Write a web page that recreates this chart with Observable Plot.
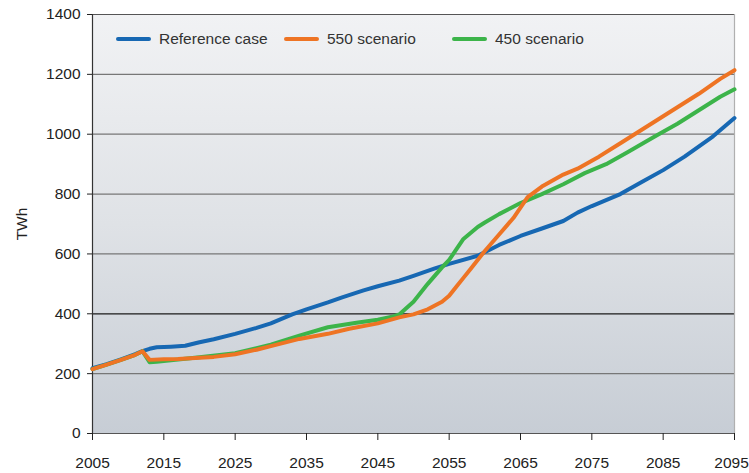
<!DOCTYPE html>
<html>
<head>
<meta charset="utf-8">
<script src="https://cdn.jsdelivr.net/npm/d3@7"></script>
<script src="https://cdn.jsdelivr.net/npm/@observablehq/plot@0.6"></script>
<style>
  html, body { margin: 0; padding: 0; background: #ffffff; }
  #wrap { position: relative; width: 749px; height: 473px; overflow: hidden; font-family: "Liberation Sans", Arial, sans-serif; }
  #legend { position: absolute; left: 116px; top: 30px; display: flex; align-items: center; font-size: 15.5px; color: #333; }
  .item { display: flex; align-items: center; width: 168px; }
  .sw { width: 35px; height: 4px; border-radius: 2px; margin-right: 8px; }
</style>
</head>
<body>
<div id="wrap"><div id="legend"></div></div>
<script>
// ---- data ----
const seriesNames = ["Reference case", "550 scenario", "450 scenario"];
const seriesColors = ["#1768b3", "#ee7424", "#3cb44a"];

const refYears  = [2005,2007,2009,2011,2012,2013,2014,2016,2018,2020,2022,2025,2028,2030,2033,2035,2038,2040,2043,2045,2048,2050,2053,2055,2059,2062,2065,2068,2071,2073,2075,2079,2082,2085,2088,2092,2095];
const refValues = [218,232,248,265,275,283,288,290,293,305,315,333,353,368,398,415,438,455,478,492,511,527,552,567,594,630,660,685,710,738,760,800,840,880,925,993,1054];

const s550Years  = [2005,2007,2009,2011,2012,2013,2015,2017,2020,2022,2025,2028,2030,2034,2038,2041,2045,2048,2050,2052,2054,2055,2056,2057,2058,2060,2062,2064,2066,2068,2070,2071,2073,2076,2079,2081,2084,2087,2090,2093,2095];
const s550Values = [215,230,246,263,275,246,248,249,253,256,265,280,292,316,333,350,368,388,398,415,440,460,490,520,550,610,665,720,790,825,852,865,885,925,970,1000,1045,1090,1135,1185,1214];

const s450Years  = [2005,2007,2009,2011,2012,2013,2014,2016,2020,2025,2030,2034,2038,2042,2045,2047,2048,2050,2052,2054,2055,2056,2057,2058,2059,2060,2062,2065,2068,2071,2074,2077,2080,2084,2087,2090,2093,2095];
const s450Values = [215,230,246,263,275,238,240,245,255,268,297,327,355,370,380,390,398,440,500,555,580,615,650,670,690,705,733,770,800,833,870,900,940,995,1035,1080,1125,1150];

const xTicks = [2005,2015,2025,2035,2045,2055,2065,2075,2085,2095];
const yTicks = [0,200,400,600,800,1000,1200,1400];

// ---- build table ----
const rows = [];
refYears.forEach((y, i) => rows.push({year: y, value: refValues[i], series: seriesNames[0]}));
s450Years.forEach((y, i) => rows.push({year: y, value: s450Values[i], series: seriesNames[2]}));
s550Years.forEach((y, i) => rows.push({year: y, value: s550Values[i], series: seriesNames[1]}));
const colorOf = Object.fromEntries(seriesNames.map((n, i) => [n, seriesColors[i]]));
const lastTick = xTicks[xTicks.length - 1];

const plot = Plot.plot({
  width: 749,
  height: 473,
  marginLeft: 92,
  marginRight: 15,
  marginTop: 14,
  marginBottom: 40,
  style: {fontFamily: "Liberation Sans, Arial, sans-serif", fontSize: "15.5px", color: "#222", background: "transparent", overflow: "visible"},
  x: {domain: [2005, 2095]},
  y: {domain: [0, 1400]},
  marks: [
    Plot.frame({fill: "url(#bgGrad)", stroke: "none"}),
    Plot.ruleY(yTicks.filter(d => d > 0 && d < 1400), {y: d => d, stroke: d => d === 400 ? "#1a1a1a" : "#777", strokeWidth: 1.2}),
    Plot.ruleY([1400], {stroke: "#555", strokeWidth: 1.2}),
    Plot.ruleX([2095], {stroke: "#b0b0b0", strokeWidth: 1.2}),
    Plot.ruleY([0], {stroke: "#555", strokeWidth: 1.2}),
    Plot.ruleX([2005], {stroke: "#333", strokeWidth: 1.2}),
    Plot.axisY({ticks: yTicks, tickSize: 5, tickPadding: 7, tickFormat: d => String(d), label: "TWh", labelAnchor: "center", labelArrow: "none", labelOffset: 77, fontSize: 15.5}),
    Plot.axisX({ticks: xTicks, tickSize: 7, tickPadding: 16, tickFormat: d => d === lastTick ? "" : String(d), label: null, fontSize: 15.5}),
    Plot.axisX({ticks: [lastTick], tickSize: 0, tickPadding: 23, dx: -3, tickFormat: d => String(d), label: null, fontSize: 15.5}),
    Plot.line(rows, {x: "year", y: "value", z: "series", stroke: d => colorOf[d.series], strokeWidth: 4, strokeLinejoin: "round", strokeLinecap: "round"})
  ]
});

// gradient background for the plot frame
const svg = d3.select(plot);
const defs = svg.insert("defs", ":first-child");
const g = defs.append("linearGradient").attr("id", "bgGrad").attr("x1", 0).attr("y1", 0).attr("x2", 0).attr("y2", 1);
g.append("stop").attr("offset", "0%").attr("stop-color", "#f1f2f4");
g.append("stop").attr("offset", "50%").attr("stop-color", "#dfe2e6");
g.append("stop").attr("offset", "100%").attr("stop-color", "#c7cdd5");

document.getElementById("wrap").prepend(plot);

// legend
const legend = d3.select("#legend");
seriesNames.forEach((n, i) => {
  const it = legend.append("div").attr("class", "item");
  it.append("div").attr("class", "sw").style("background", seriesColors[i]);
  it.append("span").text(n);
});
</script>
</body>
</html>
